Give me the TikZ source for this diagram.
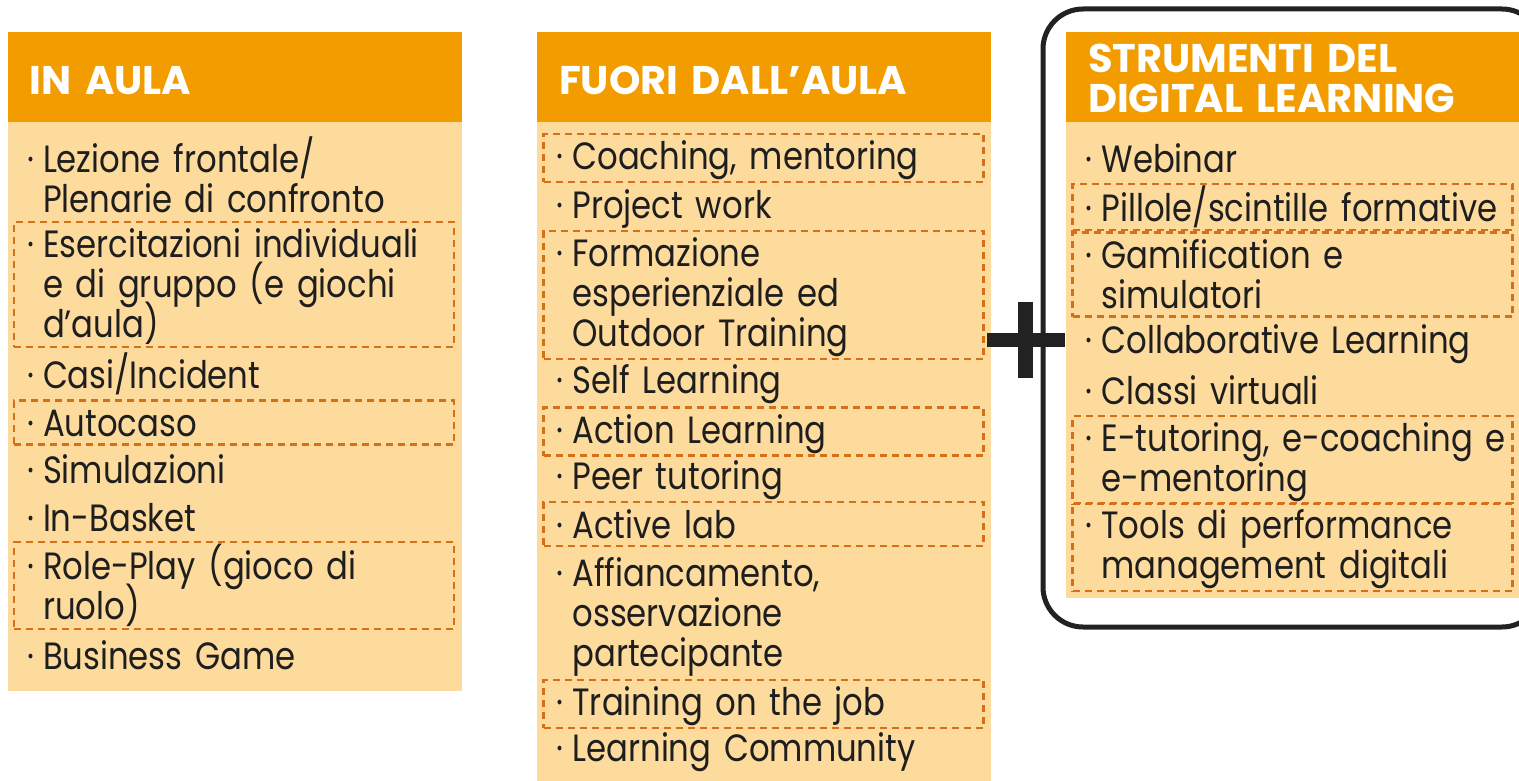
\documentclass[tikz,border=0pt]{standalone}
\usepackage{fontspec}
\setmainfont{Poppins}[FakeStretch=0.85]
\newfontfamily\hdfont{Poppins}
\usetikzlibrary{positioning}
\definecolor{hdorange}{RGB}{243,156,0}
\definecolor{bdcream}{RGB}{253,219,157}
\definecolor{dashorange}{RGB}{214,112,24}
\definecolor{txtgray}{RGB}{30,30,30}
\definecolor{plusblack}{RGB}{34,34,34}
\newcommand{\sv}{\rule[-6pt]{0pt}{40pt}}
\newcommand{\hv}{\rule{0pt}{36pt}}

\begin{document}
\begin{tikzpicture}[x=1pt,y=-1pt,
  hdr/.style={fill=hdorange, minimum width=454pt, minimum height=90pt, inner xsep=22pt, text width=410pt, align=left, text=white, font=\hdfont\fontsize{40}{40}\selectfont\bfseries},
  panel/.style={fill=bdcream, minimum width=454pt, inner sep=0pt},
  entry/.style={minimum width=440pt, inner xsep=0pt, inner ysep=2pt, text width=440pt, align=left, text=txtgray, font=\fontsize{38}{40}\selectfont,
    execute at begin node={\leftskip=29pt\lineskiplimit=-50pt\hyphenpenalty=10000\sv\llap{·\kern9pt}}, execute at end node=\sv},
  hl/.style={draw=dashorange, line width=2.5pt, dash pattern=on 7pt off 5pt},
  frame/.style={draw=plusblack, line width=5pt, rounded corners=40pt}]
  \clip (0,0) rectangle (1519,781);

  % panels
  \node[panel, minimum height=569pt] (p1) at (235,406.5) {};
  \node[panel, minimum height=668pt] (p2) at (764,456) {};
  \node[panel, minimum width=464pt, minimum height=476pt] (p3) at (1298,360) {};

  % headers
  \node[hdr] (h1) at (235,77) {\hv IN AULA};
  \node[hdr] (h2) at (764,77) {\hv FUORI DALL’AULA};
  \node[hdr, minimum width=464pt, text width=420pt, execute at begin node={\lineskiplimit=-50pt}] (h3) at (1298,77) {\rule{0pt}{31pt}STRUMENTI DEL\\DIGITAL LEARNING};

  % in aula
  \node[entry] (a1) at (234,178) {Lezione frontale/\\Plenarie di confronto};
  \node[entry, hl] (a2) at (234,284.5) {Esercitazioni individuali\\e di gruppo (e giochi\\d’aula)};
  \node[entry] (a3) at (234,374) {Casi/Incident};
  \node[entry, hl] (a4) at (234,422.5) {Autocaso};
  \node[entry] (a5) at (234,469) {Simulazioni};
  \node[entry] (a6) at (234,517) {In-Basket};
  \node[entry, hl] (a7) at (234,585.5) {Role-Play (gioco di\\ruolo)};
  \node[entry] (a8) at (234,655) {Business Game};

  % fuori dall'aula
  \node[entry, hl] (f1) at (763.5,158) {Coaching, mentoring};
  \node[entry] (f2) at (763.5,206) {Project work};
  \node[entry, hl] (f3) at (763.5,295) {Formazione\\esperienziale ed\\Outdoor Training};
  \node[entry] (f4) at (763.5,382) {Self Learning};
  \node[entry, hl] (f5) at (763.5,431.5) {Action Learning};
  \node[entry] (f6) at (763.5,478) {Peer tutoring};
  \node[entry, hl] (f7) at (763.5,524) {Active lab};
  \node[entry] (f8) at (763.5,614) {Affiancamento,\\osservazione\\partecipante};
  \node[entry, hl] (f9) at (763.5,704) {Training on the job};
  \node[entry] (f10) at (763.5,750) {Learning Community};

  % digital learning
  \node[entry] (d1) at (1292.5,158) {Webinar};
  \node[entry, hl] (d2) at (1292.5,207) {Pillole/scintille formative};
  \node[entry, hl] (d3) at (1292.5,274.5) {Gamification e\\simulatori};
  \node[entry] (d4) at (1292.5,342) {Collaborative Learning};
  \node[entry] (d5) at (1292.5,390) {Classi virtuali};
  \node[entry, hl] (d6) at (1292.5,460) {E-tutoring, e-coaching e\\e-mentoring};
  \node[entry, hl] (d7) at (1292.5,547) {Tools di performance\\management digitali};

  \draw[frame] (1043,9) rectangle (1542,627);

  % plus
  \fill[plusblack] (987,333) rectangle (1065,347);
  \fill[plusblack] (1018,302) rectangle (1033,378);
\end{tikzpicture}
\end{document}
